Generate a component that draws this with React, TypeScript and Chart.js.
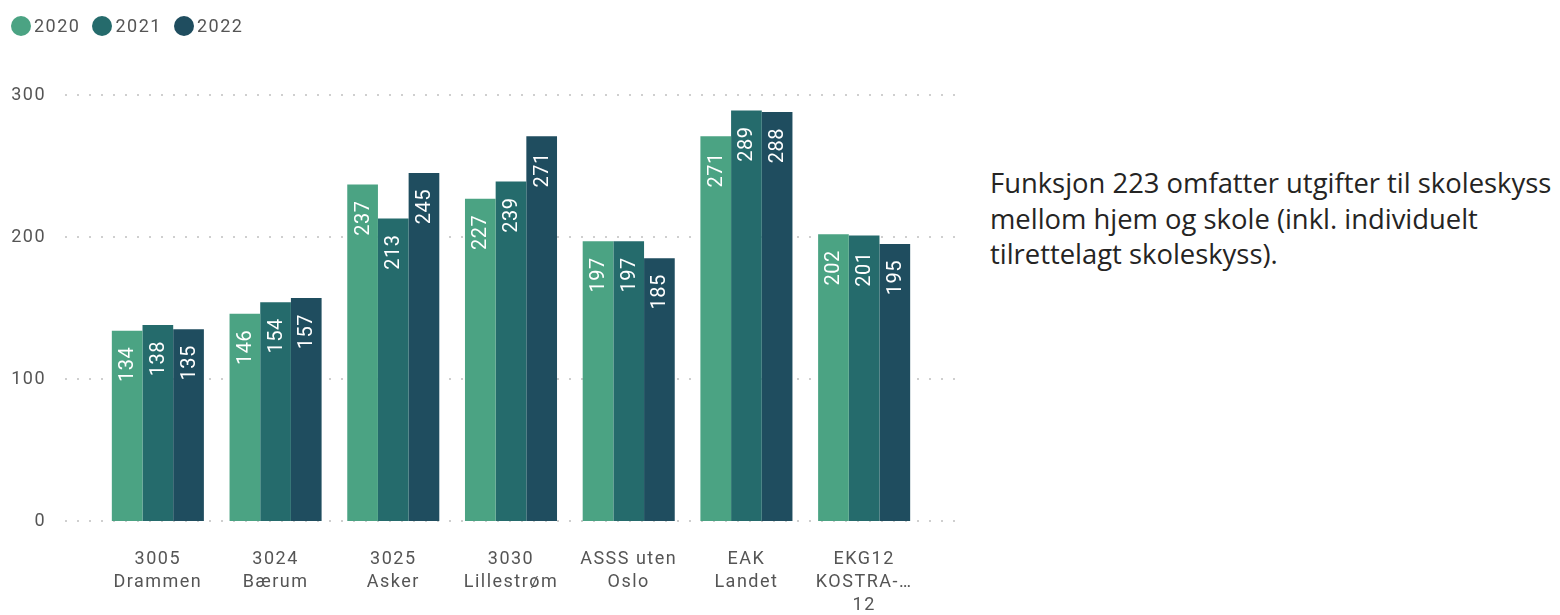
import React, { useEffect, useRef } from "react";
import { Chart, registerables } from "chart.js";

Chart.register(...registerables);

const categories: string[][] = [
  ["3005", "Drammen"],
  ["3024", "Bærum"],
  ["3025", "Asker"],
  ["3030", "Lillestrøm"],
  ["ASSS uten", "Oslo"],
  ["EAK", "Landet"],
  ["EKG12", "KOSTRA-…", "12"],
];
const seriesLabels = ["2020", "2021", "2022"];
const values2020 = [134, 146, 237, 227, 197, 271, 202];
const values2021 = [138, 154, 213, 239, 197, 289, 201];
const values2022 = [135, 157, 245, 271, 185, 288, 195];
const seriesColors = ["#4BA383", "#256B6C", "#1F4D5F"];
const yTicks = [0, 100, 200, 300];
const noteLines = [
  "Funksjon 223 omfatter utgifter til skoleskyss",
  "mellom hjem og skole (inkl. individuelt",
  "tilrettelagt skoleskyss).",
];

const gridPlugin = {
  id: "dottedGrid",
  beforeDraw(chart: any) {
    (chart.ctx as any).letterSpacing = "1.5px";
  },
  beforeDatasetsDraw(chart: any) {
    const ctx = chart.ctx;
    const y = chart.scales.y;
    ctx.save();
    ctx.fillStyle = "#cfcfcf";
    y.ticks.forEach((t: any) => {
      const py = Math.round(y.getPixelForValue(t.value));
      for (let x = 65; x < 956; x += 12) {
        ctx.fillRect(x, py - 1, 2, 2);
      }
    });
    ctx.restore();
  },
  afterDatasetsDraw(chart: any) {
    const ctx = chart.ctx;
    ctx.save();
    (ctx as any).letterSpacing = "0.5px";
    ctx.fillStyle = "#ffffff";
    ctx.font = "20px Roboto";
    ctx.textAlign = "right";
    ctx.textBaseline = "middle";
    chart.data.datasets.forEach((ds: any, di: number) => {
      const meta = chart.getDatasetMeta(di);
      meta.data.forEach((el: any, i: number) => {
        ctx.save();
        ctx.translate(el.x, el.y + 16);
        ctx.rotate(-Math.PI / 2);
        ctx.fillText(String(ds.data[i]), 0, 1);
        ctx.restore();
      });
    });
    ctx.restore();
    (ctx as any).letterSpacing = "1.5px";
  },
};

export default function App() {
  const ref = useRef<HTMLCanvasElement>(null);
  useEffect(() => {
    document.body.style.margin = "0";
    const chart = new Chart(ref.current!, {
      type: "bar",
      data: {
        labels: categories as any,
        datasets: [values2020, values2021, values2022].map((d, i) => ({
          label: seriesLabels[i],
          data: d,
          backgroundColor: seriesColors[i],
          categoryPercentage: 0.782,
          barPercentage: 1.0,
        })),
      },
      options: {
        animation: false,
        responsive: false,
        layout: { padding: { top: 95, right: 37, bottom: 0, left: 0 } },
        plugins: { legend: { display: false }, tooltip: { enabled: false } },
        scales: {
          x: {
            grid: { display: false, drawTicks: false },
            border: { display: false },
            ticks: {
              color: "#555555",
              font: { family: "Roboto", size: 18, lineHeight: 23 / 18 },
              padding: 27,
              maxRotation: 0,
              autoSkip: false,
            },
            afterFit: (axis: any) => {
              axis.height = 94;
            },
          },
          y: {
            min: 0,
            max: 300,
            grid: { display: false, drawTicks: false },
            border: { display: false },
            afterBuildTicks: (axis: any) => {
              axis.ticks = yTicks.map((v) => ({ value: v }));
            },
            ticks: {
              color: "#555555",
              font: { family: "Roboto", size: 18 },
              padding: 53,
            },
            afterFit: (axis: any) => {
              axis.width = 99;
            },
          },
        },
      },
      plugins: [gridPlugin],
    });
    return () => chart.destroy();
  }, []);

  return (
    <div style={{ position: "absolute", left: 0, top: 0, width: 1560, height: 615, background: "#fff" }}>
      <canvas ref={ref} width={960} height={615} style={{ position: "absolute", left: 0, top: 0 }} />
      <div style={{ position: "absolute", left: 11, top: 16, display: "flex", alignItems: "center", fontFamily: "Roboto", fontSize: 18, letterSpacing: "1.5px", color: "#555555", lineHeight: "20px" }}>
        {seriesLabels.map((l, i) => (
          <div key={l} style={{ display: "flex", alignItems: "center", marginRight: 12 }}>
            <span style={{ width: 20, height: 20, borderRadius: 10, background: seriesColors[i], display: "inline-block", marginRight: 3 }} />
            <span>{l}</span>
          </div>
        ))}
      </div>
      <div style={{ position: "absolute", left: 990, top: 165, fontFamily: "'Open Sans'", fontSize: 27.4, lineHeight: "35.5px", color: "#252423", whiteSpace: "nowrap" }}>
        {noteLines.map((t) => (
          <div key={t}>{t}</div>
        ))}
      </div>
    </div>
  );
}
